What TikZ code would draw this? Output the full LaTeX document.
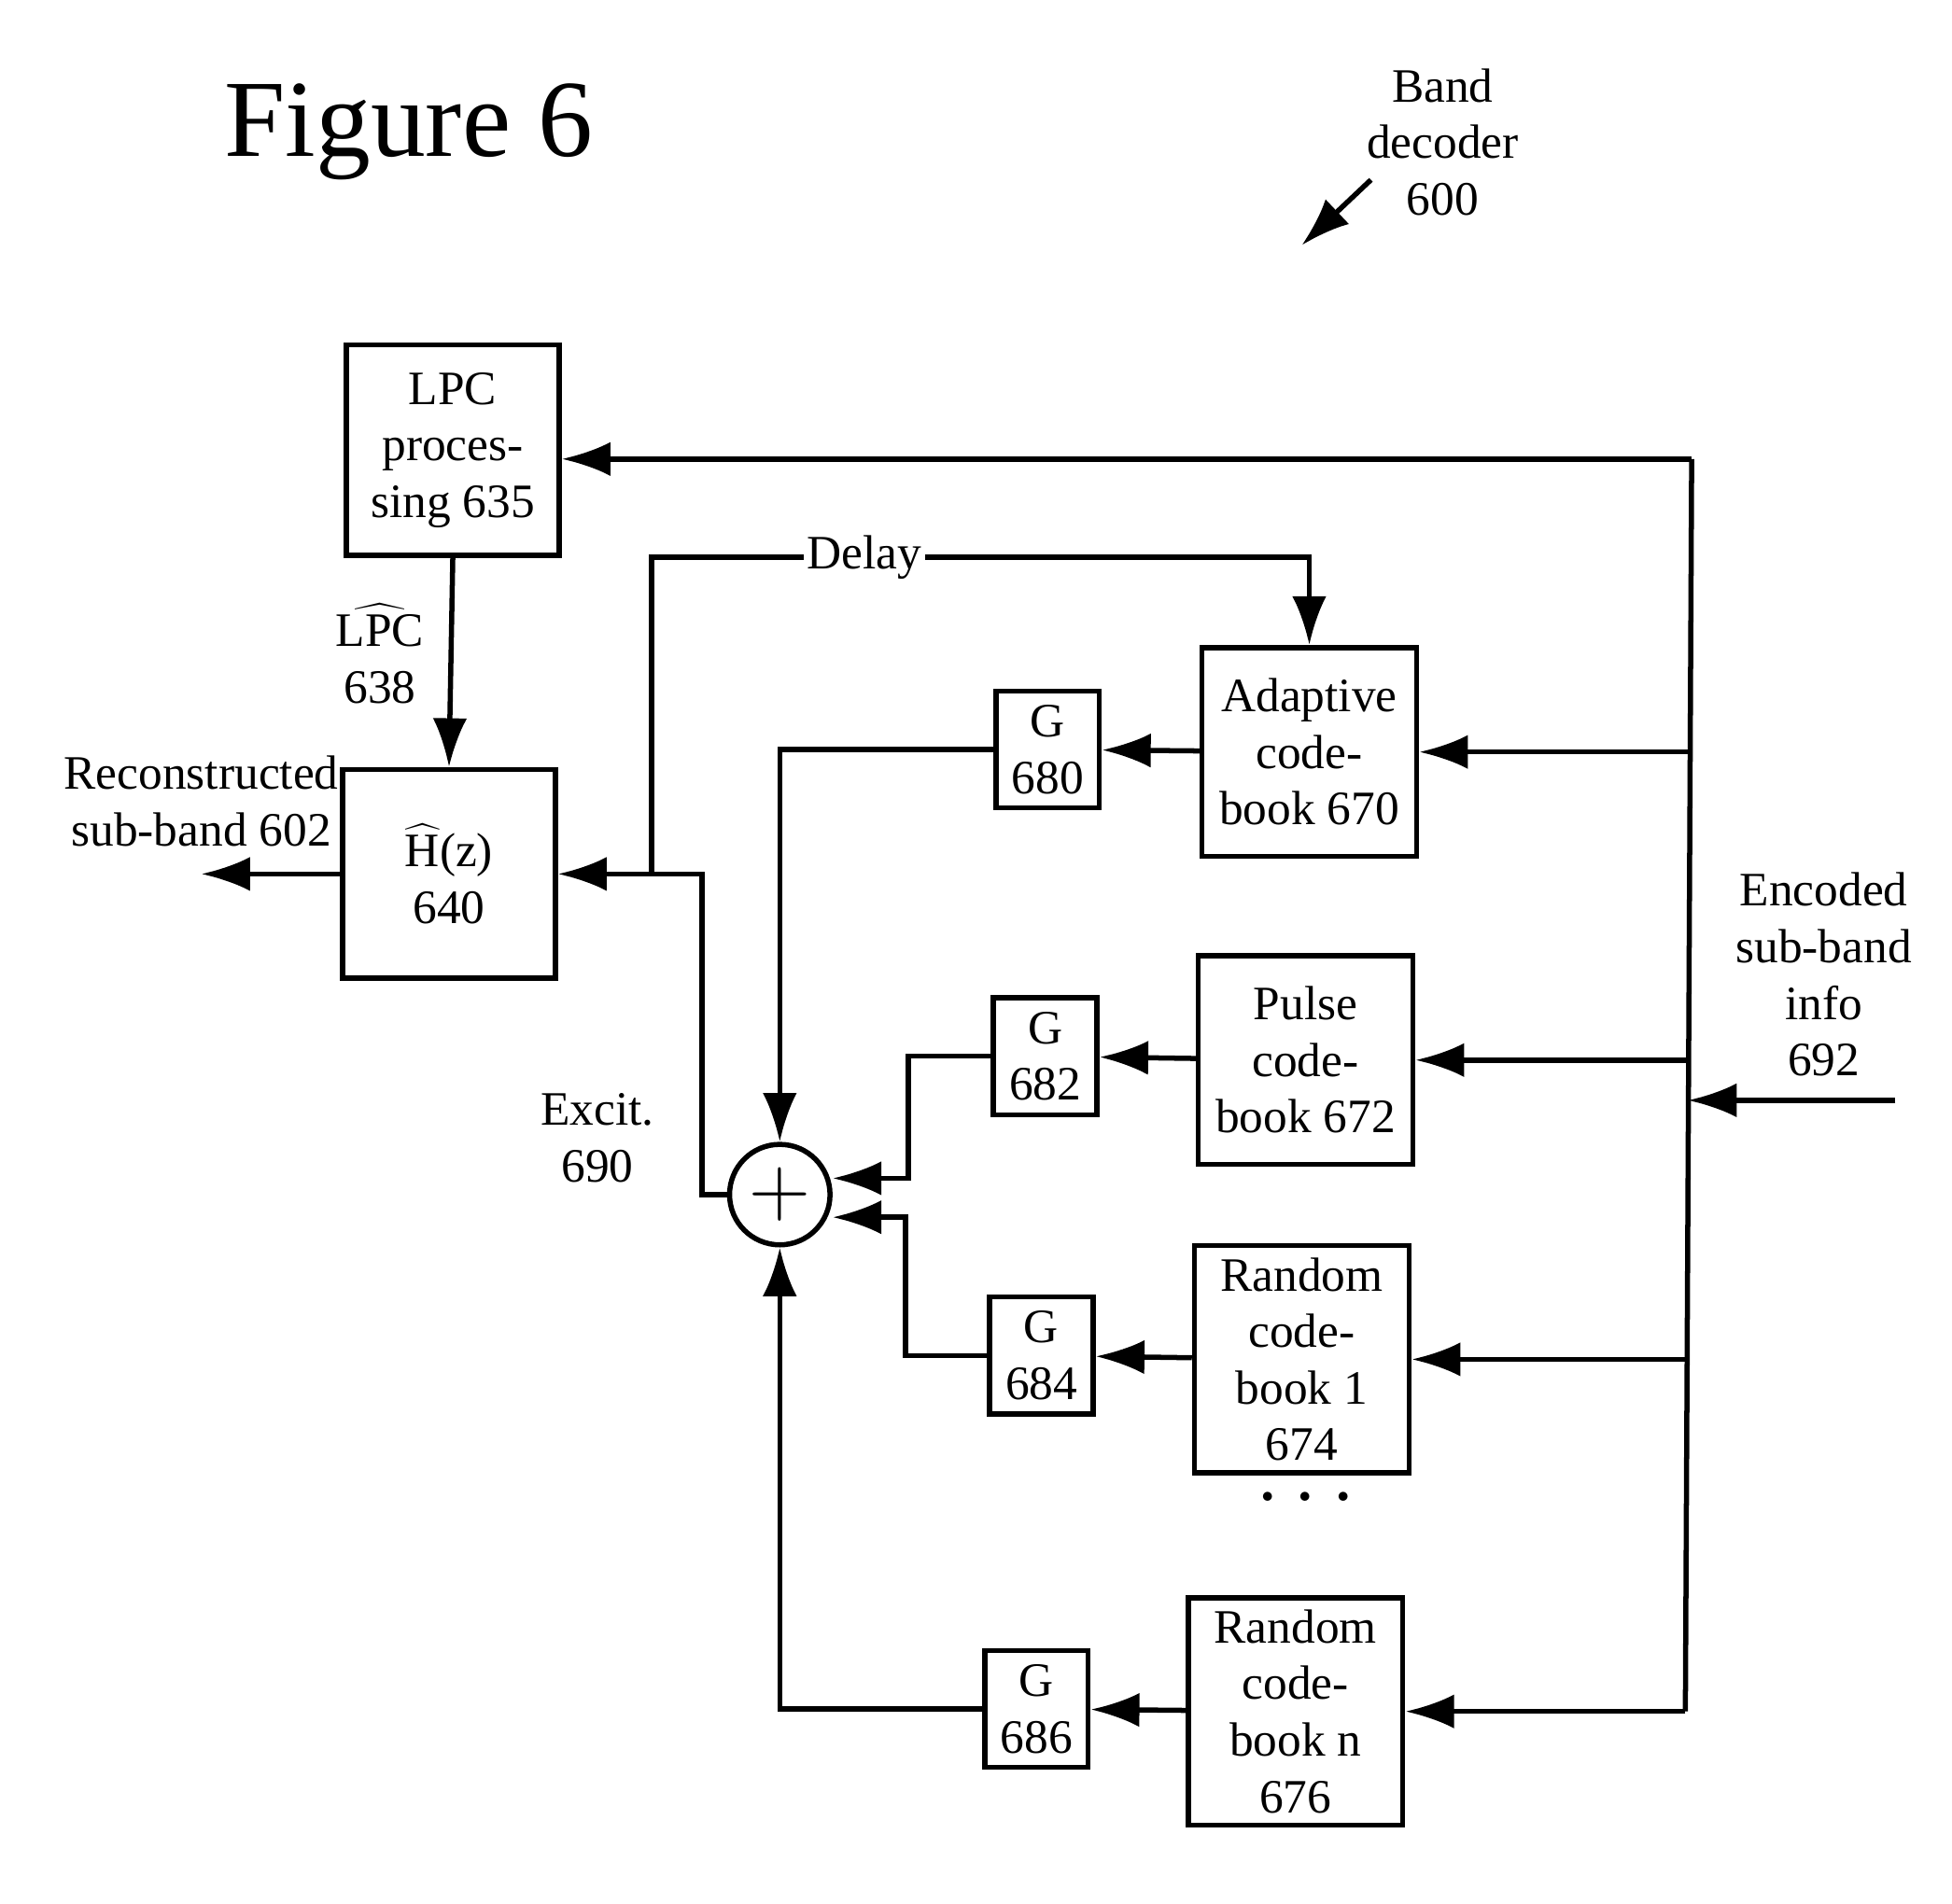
\documentclass[tikz,border=0pt]{standalone}
\usepackage{fontspec}
\setmainfont{Liberation Serif}
\usetikzlibrary{arrows,arrows.meta,calc}
\tikzset{>=latex}
\tikzstyle{block}=[rectangle,draw,line width=1.5pt,align=center,inner sep=0pt,font=\fontsize{14}{16.5}\selectfont]
\tikzstyle{gain}=[block,minimum width=1.06cm,minimum height=1.2cm]
\tikzstyle{book}=[block,minimum width=2.2cm]
\tikzstyle{lbl}=[align=center,font=\fontsize{14}{16.5}\selectfont]
\tikzstyle{wire}=[line width=1.5pt]
\tikzstyle{arr}=[wire,-{Latex[length=5mm,width=3.5mm]}]
\begin{document}
\begin{tikzpicture}[x=0.01289cm,y=-0.01289cm]
	\useasboundingbox (0,0) rectangle (1552,1514);

	\node[lbl,font=\fontsize{32}{38}\selectfont] (fig) at (325,105) {Figure 6};
	\node[lbl] (bd) at (1147,113) {Band\\decoder\\600};
	\coordinate (bdA) at (1090,143);
	\coordinate (bdB) at (1035,195);
	\draw[arr] (bdA) -- (bdB);

	\node[block,minimum width=2.18cm,minimum height=2.16cm] (lpc) at (360,358) {LPC\\proces-\\sing 635};
	\node[block,minimum width=2.18cm,minimum height=2.14cm] (hz) at (357,695) {$\widehat{\mathrm{H}}$(z)\\640};

	\node[book,minimum height=2.14cm] (acb) at (1041,598) {Adaptive\\code-\\book 670};
	\node[book,minimum height=2.14cm] (pcb) at (1038,843) {Pulse\\code-\\book 672};
	\node[book,minimum height=2.33cm] (rc1) at (1035,1081) {Random\\code-\\book 1\\674};
	\node[book,minimum height=2.33cm] (rcn) at (1030,1361) {Random\\code-\\book n\\676};

	\node[gain] (g680) at (833,596) {G\\680};
	\node[gain] (g682) at (831,840) {G\\682};
	\node[gain] (g684) at (828,1078) {G\\684};
	\node[gain] (g686) at (824,1359) {G\\686};

	\node[circle,draw,line width=1.5pt,minimum size=1.03cm,inner sep=0pt,font=\fontsize{30}{30}\selectfont] (sum) at (620,950) {$+$};

	\node[lbl] (lpclab) at (302,520) {$\widehat{\mathrm{LPC}}$\\638};
	\node[lbl] (recon) at (160,637) {Reconstructed\\sub-band 602};
	\node[lbl] (excit) at (475,905) {Excit.\\690};
	\node[lbl] (enc) at (1450,775) {Encoded\\sub-band\\info\\692};
	\node[lbl,font=\fontsize{24}{24}\selectfont] (dots) at (1038,1192) {$\cdots$};

	% input bus
	\coordinate (busT) at (1345,365);
	\coordinate (busB) at (1340,1361);
	\coordinate (encIn) at (1507,875);
	\coordinate (busIn) at (1342,875);
	\draw[wire] (busT) -- (busB);
	\draw[arr] (encIn) -- (busIn);
	\draw[arr] (busT) -- (busT -| lpc.east);
	\draw[arr] (1344,598) -- (acb.east);
	\draw[arr] (1343,843) -- (pcb.east);
	\draw[arr] (1341,1081) -- (rc1.east);
	\draw[arr] (busB) -- (rcn.east);

	% codebooks to gains
	\draw[arr] (acb) -- (g680);
	\draw[arr] (pcb) -- (g682);
	\draw[arr] (rc1) -- (g684);
	\draw[arr] (rcn) -- (g686);

	% gains to sum
	\draw[arr] (g680.west) -| (sum.north);
	\draw[arr] (g686.west) -| (sum.south);
	\coordinate (k682) at (722,937);
	\coordinate (k684) at (720,968);
	\draw[arr] (g682.west) -| (k682) -- (sum.east |- k682);
	\draw[arr] (g684.west) -| (k684) -- (sum.east |- k684);

	% excitation and delay
	\coordinate (exL) at (558,950);
	\coordinate (exT) at (558,695);
	\coordinate (dj) at (518,695);
	\coordinate (dT) at (518,443);
	\draw[arr] (sum.west) -- (exL) -- (exT) -- (hz.east);
	\draw[arr] (dj) -- (dT) -- (687,443) node[fill=white,inner sep=1pt,lbl] (delay) {Delay} -- (acb.north |- dT) -- (acb.north);

	% LPC and output
	\draw[arr] (lpc.south) -- (hz.north);
	\coordinate (out) at (160,695);
	\draw[arr] (hz.west) -- (out);
\end{tikzpicture}
\end{document}
